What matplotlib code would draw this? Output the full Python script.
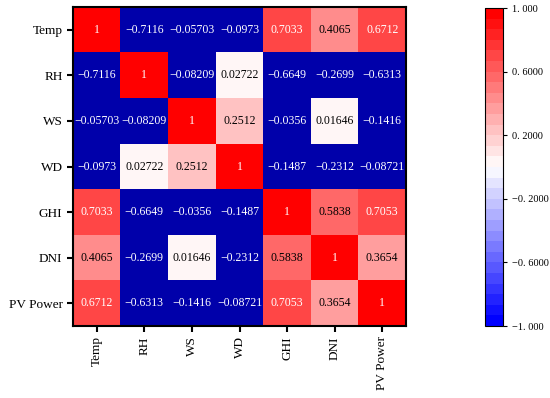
import numpy as np
import matplotlib
matplotlib.use("Agg")
import matplotlib.pyplot as plt
from matplotlib.colors import ListedColormap, Normalize
from matplotlib.cm import ScalarMappable
from matplotlib.ticker import NullLocator

labels = ["Temp", "RH", "WS", "WD", "GHI", "DNI", "PV Power"]
corr = np.array([
    [1, -0.7116, -0.05703, -0.0973, 0.7033, 0.4065, 0.6712],
    [-0.7116, 1, -0.08209, 0.02722, -0.6649, -0.2699, -0.6313],
    [-0.05703, -0.08209, 1, 0.2512, -0.0356, 0.01646, -0.1416],
    [-0.0973, 0.02722, 0.2512, 1, -0.1487, -0.2312, -0.08721],
    [0.7033, -0.6649, -0.0356, -0.1487, 1, 0.5838, 0.7053],
    [0.4065, -0.2699, 0.01646, -0.2312, 0.5838, 1, 0.3654],
    [0.6712, -0.6313, -0.1416, -0.08721, 0.7053, 0.3654, 1],
])
cbar_ticks = [1.0, 0.6, 0.2, -0.2, -0.6, -1.0]
cbar_ticklabels = ["1. 000", "0. 6000", "0. 2000", "\u22120. 2000", "\u22120. 6000", "\u22121. 000"]

plt.rcParams['font.family'] = ['Liberation Serif', 'DejaVu Serif']

nlev = 30
base = plt.get_cmap('bwr')(np.linspace(0, 1, nlev))
bar_cmap = ListedColormap(base)
navy = np.array([0, 0, 170 / 255, 1.0])
cell_colors = base.copy()
cell_colors[: nlev // 2] = navy
cell_cmap = ListedColormap(cell_colors)
norm = Normalize(vmin=-1, vmax=1)

fig = plt.figure(figsize=(5.5, 3.98), dpi=100)
ax = fig.add_axes([73 / 550, 1 - 326 / 398, 333 / 550, 319 / 398])
ax.imshow(corr, cmap=cell_cmap, norm=norm, aspect='auto', interpolation='nearest')

n = len(labels)
for i in range(n):
    for j in range(n):
        v = corr[i, j]
        txt = "1" if v == 1 else ("%g" % v).replace("-", "\u2212")
        col = 'white' if (v < 0 or v > 0.62) else 'black'
        ax.text(j, i, txt, ha='center', va='center', color=col, fontsize=8.5)

ax.set_xticks(range(n))
ax.set_yticks(range(n))
ax.set_xticklabels(labels, rotation=90, fontsize=9.5)
ax.set_yticklabels(labels, fontsize=9.5)
ax.tick_params(direction='out', length=4, width=1.5, color='black')
for s in ax.spines.values():
    s.set_linewidth(1.5)

cax = fig.add_axes([485 / 550, 1 - 326 / 398, 18 / 550, 318 / 398])
sm = ScalarMappable(norm=norm, cmap=bar_cmap)
cb = fig.colorbar(sm, cax=cax, ticks=cbar_ticks)
cb.ax.yaxis.set_minor_locator(NullLocator())
cb.ax.set_yticklabels(cbar_ticklabels, fontsize=7.5)
cb.ax.tick_params(which='major', length=3, width=0.8)
cb.outline.set_linewidth(0.8)

fig.savefig("out.png", dpi=100)
